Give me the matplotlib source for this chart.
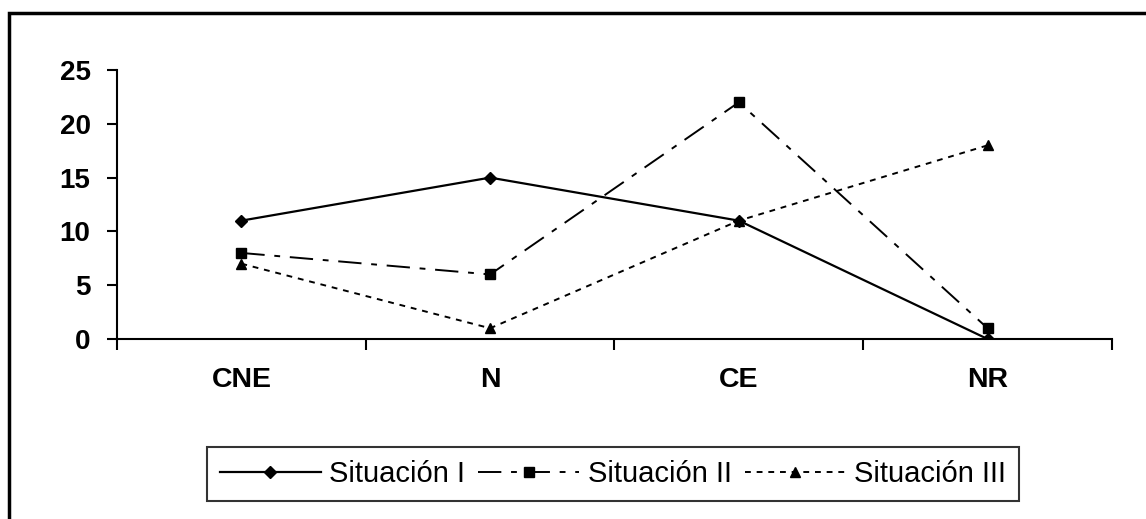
import matplotlib
matplotlib.use('Agg')
import matplotlib.pyplot as plt
from matplotlib.patches import Rectangle

categories = ['CNE', 'N', 'CE', 'NR']
sit1 = [11, 15, 11, 0]
sit2 = [8, 6, 22, 1]
sit3 = [7, 1, 11, 18]
labels = ['Situación I', 'Situación II', 'Situación III']
yticks = [0, 5, 10, 15, 20, 25]

plt.rcParams['font.family'] = ['Liberation Sans', 'DejaVu Sans']

fig = plt.figure(figsize=(11.46, 5.19), dpi=100)
ax = fig.add_axes([0.1021, 0.3468, 0.8682, 0.5183])

x = range(len(categories))
ax.plot(x, sit1, color='black', lw=1.6, marker='D', ms=6, label=labels[0])
ax.plot(x, sit2, color='black', lw=1.4, marker='s', ms=7,
        dashes=(12, 5, 3, 5), label=labels[1])
ax.plot(x, sit3, color='black', lw=1.4, marker='^', ms=7,
        dashes=(3, 3), label=labels[2])

ax.set_xlim(-0.5, len(categories) - 0.5)
ax.set_ylim(0, 25)
ax.set_yticks(yticks)
ax.set_xticks(list(x))
ax.set_xticklabels(categories, fontsize=20.5, fontweight='bold')
ax.set_xticks([i - 0.5 for i in range(len(categories) + 1)], minor=True)
ax.tick_params(axis='x', which='major', length=0, pad=20)
ax.tick_params(axis='x', which='minor', length=8, width=1.5, direction='out')
ax.tick_params(axis='y', length=7, width=1.5, direction='out', pad=12)
for t in ax.get_yticklabels():
    t.set_fontsize(20)
    t.set_fontweight('bold')

for s in ['top', 'right']:
    ax.spines[s].set_visible(False)
for s in ['left', 'bottom']:
    ax.spines[s].set_linewidth(1.5)

leg = fig.legend(loc='center', bbox_to_anchor=(0.535, 0.087), ncol=3,
                 frameon=True, fancybox=False, edgecolor='black',
                 fontsize=21, handlelength=3.45, handletextpad=0.3,
                 columnspacing=0.45, borderpad=0.45, borderaxespad=0)
leg.get_frame().set_linewidth(1.5)

fig.patches.append(Rectangle((0.0078, -0.1), 1.1, 0.1 + 0.975, fill=False,
                             lw=2.5, edgecolor='black',
                             transform=fig.transFigure))

fig.savefig('out.png', dpi=100)
